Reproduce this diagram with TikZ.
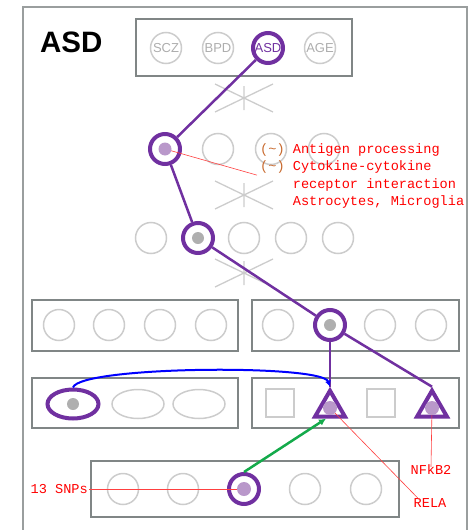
\documentclass[tikz,border=0pt]{standalone}
\usepackage{fontspec}
\setmainfont{Liberation Sans}
\newfontfamily\courierfont{Liberation Mono}
\usepackage{tikz}
\usetikzlibrary{arrows.meta,positioning,shapes.geometric}
\definecolor{mypurple}{RGB}{112,48,160}
\definecolor{mylavender}{RGB}{185,152,202}
\definecolor{myframe}{RGB}{128,134,134}
\definecolor{mylight}{RGB}{204,204,204}
\definecolor{mydot}{RGB}{175,175,175}
\definecolor{mybrown}{RGB}{200,105,45}
\definecolor{mygreen}{RGB}{20,170,75}

\begin{document}
\begin{tikzpicture}[x=1pt, y=-1pt,
    panel/.style={draw=myframe, line width=2pt},
    unit/.style={circle, draw=mylight, line width=1.5pt, minimum size=31pt,
        inner sep=0pt, text=mylight!85!black, font=\fontsize{13}{13}\selectfont},
    hit/.style={draw=mypurple, line width=4pt, minimum size=30pt},
    oval/.style={ellipse, draw=mylight, line width=1.5pt, minimum width=52pt,
        minimum height=29pt, inner sep=0pt},
    sq/.style={rectangle, draw=mylight, line width=2pt, minimum size=28pt, inner sep=0pt},
    tri/.style={regular polygon, regular polygon sides=3, draw=mypurple,
        line width=4pt, minimum size=34.6pt, inner sep=0pt},
    dot/.style={circle, minimum size=13pt, inner sep=0pt},
    crossline/.style={mylight, line width=1.3pt},
    link/.style={mypurple, line width=2.5pt},
    note/.style={font=\courierfont\fontsize{13.6}{17.4}\selectfont, text=red, inner sep=0pt},
    pointer/.style={red!75, line width=0.6pt}
]
\useasboundingbox (0,0) rectangle (468,530);
\clip (0,0) rectangle (468,530);
\draw[myframe!80, line width=1.5pt] (23,7) rectangle (467,560);
\node[font=\bfseries\fontsize{29.5}{30}\selectfont, anchor=west, inner sep=0pt] (title) at (40,42.5) {ASD};

\draw[panel] (136,19) rectangle (352,76);
\draw[panel] (32,300) rectangle (238,351); \draw[panel] (252,300) rectangle (459,351);
\draw[panel] (32,378) rectangle (238,428); \draw[panel] (252,378) rectangle (459,428);
\draw[panel] (91,461) rectangle (399,517);

\draw[crossline] (215,84) -- (273,112) (215,112) -- (273,84) (244,86) -- (244,110);
\draw[crossline] (215,181) -- (273,209) (215,209) -- (273,181) (244,183) -- (244,207);
\draw[crossline] (215,259) -- (273,287) (215,287) -- (273,259) (244,261) -- (244,285);

\node[unit] (scz) at (166,48) {SCZ};
\node[unit] (bpd) at (218,48) {BPD};
\node[unit, hit, text=mypurple] (asd) at (268,48) {ASD};
\node[unit] (age) at (320,48) {AGE};

\node[unit, hit] (p1) at (165,149) {}; \node[unit] (p2) at (218,149) {};
\node[unit] (p3) at (271,149) {}; \node[unit] (p4) at (324,149) {};

\node[unit] (k1) at (151,238) {}; \node[unit, hit] (k2) at (198,238) {};
\node[unit] (k3) at (244,238) {}; \node[unit] (k4) at (291,238) {};
\node[unit] (k5) at (338,238) {};

\node[unit] (m1) at (59,325) {}; \node[unit] (m2) at (109,325) {};
\node[unit] (m3) at (160,325) {}; \node[unit] (m4) at (211,325) {};
\node[unit] (n1) at (278,325) {}; \node[unit, hit] (n2) at (330,325) {};
\node[unit] (n3) at (380,325) {}; \node[unit] (n4) at (431,325) {};

\node[oval, draw=mypurple, line width=4pt, minimum width=51pt] (e1) at (73,404) {};
\node[oval] (e2) at (138,404) {}; \node[oval] (e3) at (199,404) {};
\node[sq] (b1) at (280,403) {}; \node[sq] (b2) at (381,403) {};
\node[tri] (t1) at (330,408) {}; \node[tri] (t2) at (432,408) {};

\node[unit] (s1) at (123,489) {}; \node[unit] (s2) at (183,489) {};
\node[unit, hit] (s3) at (244,489) {}; \node[unit] (s4) at (305,489) {};
\node[unit] (s5) at (366,489) {};

\node[note, anchor=north west, align=left] (terms) at (260,143.5)
    {{\color{mybrown}(\textasciitilde)} Antigen processing\\
     {\color{mybrown}(\textasciitilde)} Cytokine-cytokine\\
     \phantom{(\textasciitilde)} receptor interaction\\
     \phantom{(\textasciitilde)} Astrocytes, Microglia};
\node[note, anchor=east] (snps) at (88,489) {13 SNPs};
\node[note] (nfkb) at (431,470) {NFkB2};
\node[note] (rela) at (430,503) {RELA};

\draw[pointer] (p1.center) -- ([xshift=-3pt,yshift=1pt]terms.west);
\draw[pointer] (s3.center) -- ([xshift=1pt]snps.east);
\draw[pointer] (t2.center) -- ([yshift=-2pt]nfkb.north);
\draw[pointer] (t1.center) -- ([xshift=-10pt,yshift=-2pt]rela.north);

\node[dot, fill=mylavender] (dp1) at (p1) {}; \node[dot, fill=mydot, minimum size=12pt] (dk2) at (k2) {};
\node[dot, fill=mydot, minimum size=12pt] (dn2) at (n2) {}; \node[dot, fill=mydot, minimum size=12pt] (de1) at (e1) {};
\node[dot, fill=mylavender, minimum size=14pt] (dt1) at (t1) {}; \node[dot, fill=mylavender, minimum size=14pt] (dt2) at (t2) {};
\node[dot, fill=mylavender, minimum size=14pt] (ds3) at (s3) {};

\draw[link] (asd) -- (p1); \draw[link] (p1) -- (k2); \draw[link] (k2) -- (n2);
\draw[link] (n2) -- (t1.north); \draw[link] (n2) -- (t2.north);
\draw[-{Latex[length=6pt,width=6pt]}, blue, line width=2pt] (e1.north)
    .. controls (80,366) and (322,364) .. (t1.north);
\draw[-{Latex[length=7pt,width=7pt]}, mygreen, line width=2.5pt] (s3.north) -- ([xshift=-4pt]t1.south);
\end{tikzpicture}
\end{document}
